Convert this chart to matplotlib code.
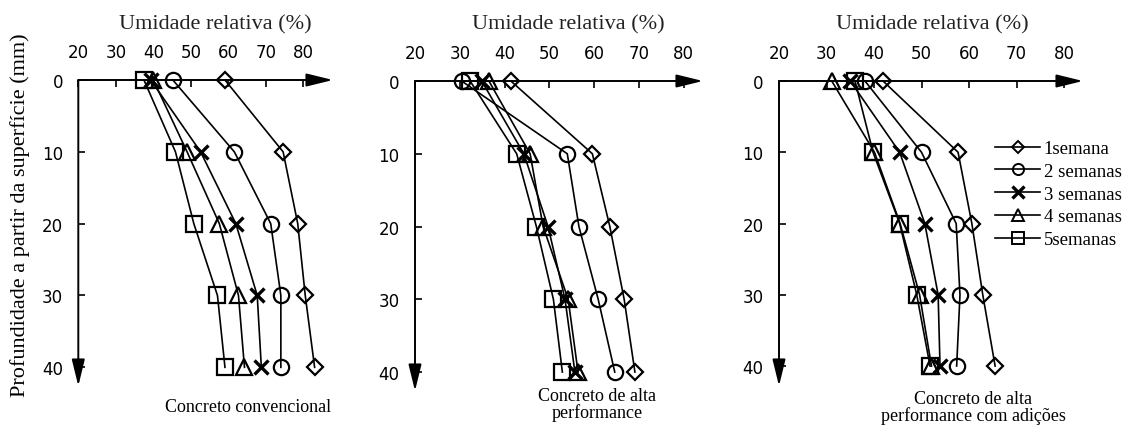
import matplotlib
matplotlib.use("Agg")
import matplotlib.pyplot as plt
from matplotlib.lines import Line2D

W, H = 1131, 427
DPI = 100

depth = [0, 10, 20, 30, 40]
series_labels = ["1semana", "2 semanas", "3 semanas", "4 semanas", "5semanas"]
x_ticks = [20, 30, 40, 50, 60, 70, 80]
y_ticks = [0, 10, 20, 30, 40]

# Concreto convencional
cc_w1 = [59.1, 74.6, 78.5, 80.5, 83.0]
cc_w2 = [45.2, 61.6, 71.3, 74.0, 74.0]
cc_w3 = [39.3, 52.6, 62.0, 67.7, 68.8]
cc_w4 = [40.0, 49.0, 57.6, 62.7, 64.3]
cc_w5 = [37.5, 45.9, 50.8, 57.1, 59.1]

# Concreto de alta performance
hp_w1 = [41.4, 59.6, 63.5, 66.7, 69.1]
hp_w2 = [30.4, 54.0, 56.6, 60.9, 64.6]
hp_w3 = [34.9, 44.3, 49.7, 53.5, 55.7]
hp_w4 = [36.5, 45.7, 48.6, 54.2, 56.4]
hp_w5 = [32.3, 42.7, 47.1, 50.9, 52.9]

# Concreto de alta performance com adições
ha_w1 = [41.9, 57.7, 60.6, 62.9, 65.5]
ha_w2 = [38.1, 50.0, 57.3, 58.1, 57.4]
ha_w3 = [35.0, 45.4, 50.7, 53.5, 53.9]
ha_w4 = [31.1, 40.1, 45.5, 49.6, 52.1]
ha_w5 = [36.0, 39.8, 45.4, 49.0, 51.8]

markers = ["D", "o", "x", "^", "s"]
msizes = [8, 11, 10, 11, 11]

SERIF = ["Liberation Serif", "DejaVu Serif"]

fig = plt.figure(figsize=(W / DPI, H / DPI), dpi=DPI)


def fx(px):
    return px / W


def fy(py):
    return 1 - py / H


def make_axes(x0, x1, xmax, y0, y1, ymax):
    # x0: pixel of value 20, x1: pixel of arrow tip (value xmax)
    # y0: pixel of depth 0, y1: pixel of arrow tip (depth ymax)
    ax = fig.add_axes([fx(x0), fy(y1), fx(x1) - fx(x0), fy(y0) - fy(y1)])
    ax.set_xlim(20, xmax)
    ax.set_ylim(ymax, 0)
    for s in ax.spines.values():
        s.set_visible(False)
    ax.xaxis.tick_top()
    ax.set_xticks(x_ticks)
    ax.set_yticks(y_ticks)
    ax.tick_params(axis="x", direction="in", length=5, width=1.2, pad=14,
                   labelsize=12, colors="black")
    ax.tick_params(axis="y", direction="in", length=5, width=1.2, pad=11,
                   labelsize=12, colors="black")
    ax.patch.set_alpha(0)
    # axis arrows
    ax.annotate("", xy=(1, 1), xytext=(0, 1), xycoords="axes fraction",
                textcoords="axes fraction",
                arrowprops=dict(arrowstyle="-|>,head_length=0.9,head_width=0.22",
                                lw=1.4, color="black", mutation_scale=18,
                                shrinkA=0, shrinkB=0))
    ax.annotate("", xy=(0, 0), xytext=(0, 1), xycoords="axes fraction",
                textcoords="axes fraction",
                arrowprops=dict(arrowstyle="-|>,head_length=0.9,head_width=0.22",
                                lw=1.4, color="black", mutation_scale=18,
                                shrinkA=0, shrinkB=0))
    return ax


def draw(ax, data):
    for vals, m, ms in zip(data, markers, msizes):
        ax.plot(vals, depth, color="black", lw=1.2, marker=m, ms=ms,
                mfc="none", mec="black", mew=1.6 if m != "x" else 2.4,
                clip_on=False, zorder=3)


ax1 = make_axes(78.3, 333, 87.9, 81, 387, 42.6)
draw(ax1, [cc_w1, cc_w2, cc_w3, cc_w4, cc_w5])

ax2 = make_axes(415, 703, 84.3, 82, 392, 42.6)
draw(ax2, [hp_w1, hp_w2, hp_w3, hp_w4, hp_w5])

ax3 = make_axes(779, 1083, 84.0, 82, 387, 42.8)
draw(ax3, [ha_w1, ha_w2, ha_w3, ha_w4, ha_w5])

# axis titles
for cx in (215, 568, 932):
    fig.text(fx(cx), fy(25), "Umidade relativa (%)", family=SERIF, fontsize=16,
             ha="center", va="center", color="#222222")

fig.text(fx(20), fy(215), "Profundidade a partir da superfície (mm)",
         family=SERIF, fontsize=16, rotation=90, ha="center", va="center")

# subtitles
fig.text(fx(165), fy(408), "Concreto convencional", family=SERIF, fontsize=13,
         ha="left", va="center")
fig.text(fx(597), fy(405), "Concreto de alta\nperformance", family=SERIF,
         fontsize=13, ha="center", va="center", linespacing=1.0)
fig.text(fx(973), fy(408), "Concreto de alta\nperformance com adições",
         family=SERIF, fontsize=13, ha="center", va="center", linespacing=1.0)

# legend
leg_ms = [6, 8, 9, 8, 8]
handles = [Line2D([], [], color="black", lw=1.2, marker=m, ms=s, mfc="none",
                  mec="black", mew=1.4 if m != "x" else 2.4)
           for m, s in zip(markers, leg_ms)]
fig.legend(handles, series_labels, loc="upper left",
           bbox_to_anchor=(fx(995), fy(141)), frameon=False,
           prop={"family": SERIF, "size": 13.5}, handlelength=2.4,
           handletextpad=0.2, labelspacing=0.3, borderaxespad=0,
           borderpad=0)

fig.savefig("out.png", dpi=DPI)
